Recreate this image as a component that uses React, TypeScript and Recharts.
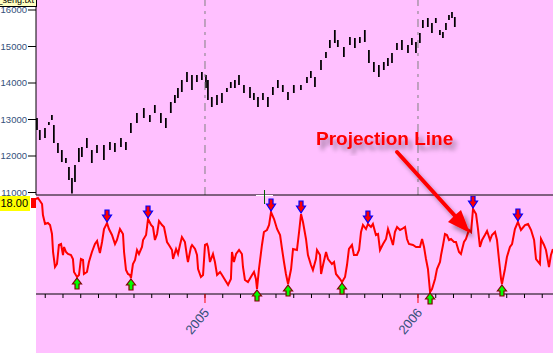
import React from 'react';
import { ComposedChart, Bar, Line, Scatter, XAxis, YAxis, ReferenceLine } from 'recharts';

// ---- Price panel (Hang Seng), x = months since Jan 2004 ----
const priceMonths = [
  2.54, 2.70, 2.99, 3.21, 3.38, 3.49, 3.72, 3.94, 4.17, 4.34,
  4.51, 4.68, 4.90, 5.07, 5.35, 5.63, 5.92, 6.31, 6.65, 6.93,
  7.27, 7.55, 7.83, 8.17, 8.56, 8.90, 9.18, 9.52, 9.80, 10.08,
  10.31, 10.48, 10.70, 10.99, 11.27, 11.55, 11.83, 12.06, 12.17, 12.39,
  12.68, 12.96, 13.24, 13.46, 13.69, 13.92, 14.20, 14.54, 14.76, 14.99,
  15.27, 15.55, 15.83, 16.11, 16.39, 16.68, 17.01, 17.41, 17.75, 17.97,
  18.20, 18.54, 18.82, 19.04, 19.32, 19.49, 19.83, 20.17, 20.45, 20.73,
  21.01, 21.24, 21.52, 21.80, 22.08, 22.31, 22.54, 22.82, 23.10, 23.44,
  23.66, 23.89, 24.11, 24.28, 24.56, 24.79, 25.01, 25.24, 25.41, 25.58,
  25.75, 25.92, 26.08,
];
const priceHigh = [
  13041, 12712, 12767, 12931, 13123, 12849, 12356, 12164, 11945, 11698,
  11397, 11753, 12219, 12246, 12493, 12164, 12301, 12301, 12383, 12356,
  12493, 12383, 12904, 13178, 13315, 13123, 13397, 13178, 13041, 13479,
  13671, 13863, 14082, 14301, 14219, 14219, 14301, 14219, 14082, 13616,
  13671, 13726, 13863, 14027, 14082, 14219, 13945, 13890, 13726, 13616,
  13726, 13616, 13890, 14082, 13945, 13753, 13945, 13945, 14164, 14329,
  14164, 14630, 14849, 15178, 15452, 15178, 14986, 15260, 15233, 15260,
  15452, 14904, 14575, 14493, 14575, 14685, 14822, 15096, 15178, 15041,
  15233, 15123, 15370, 15726, 15781, 15644, 15781, 15452, 15397, 15644,
  15863, 15945, 15808,
];
const priceLow = [
  12712, 12438, 12493, 12849, 12986, 12356, 12082, 11835, 11808, 11342,
  10970, 11287, 11835, 11972, 12219, 11808, 12082, 11890, 12164, 12109,
  12246, 12164, 12630, 12904, 13041, 12931, 13178, 12904, 12767, 13178,
  13452, 13589, 13753, 14027, 13808, 14027, 14082, 13863, 13534, 13342,
  13397, 13452, 13753, 13863, 13863, 13945, 13726, 13589, 13534, 13342,
  13534, 13342, 13671, 13863, 13753, 13534, 13726, 13808, 14000, 14137,
  13890, 14356, 14685, 14959, 15096, 14986, 14712, 15041, 14959, 15096,
  15123, 14548, 14301, 14164, 14356, 14466, 14548, 14904, 14904, 14822,
  15041, 14822, 15096, 15507, 15534, 15370, 15644, 15315, 15233, 15452,
  15726, 15781, 15534,
];
const priceTicks = [11000, 12000, 13000, 14000, 15000, 16000];

// ---- Oscillator panel ----
const oscMonths = [
  2.48, 2.59, 2.82, 2.87, 2.99, 3.15, 3.27, 3.38, 3.44, 3.55,
  3.66, 3.77, 3.89, 4.00, 4.06, 4.17, 4.28, 4.45, 4.56, 4.62,
  4.79, 4.90, 5.01, 5.13, 5.18, 5.35, 5.46, 5.63, 5.80, 5.92,
  5.97, 6.08, 6.20, 6.31, 6.48, 6.59, 6.76, 6.93, 7.04, 7.21,
  7.38, 7.44, 7.55, 7.66, 7.77, 7.83, 7.94, 8.06, 8.17, 8.28,
  8.45, 8.51, 8.68, 8.79, 8.96, 9.07, 9.18, 9.30, 9.41, 9.58,
  9.69, 9.86, 9.97, 10.14, 10.20, 10.37, 10.48, 10.59, 10.70, 10.87,
  10.99, 11.04, 11.21, 11.27, 11.44, 11.55, 11.61, 11.77, 11.89, 12.00,
  12.11, 12.17, 12.28, 12.45, 12.56, 12.68, 12.85, 12.96, 13.13, 13.30,
  13.46, 13.52, 13.63, 13.75, 13.92, 14.08, 14.14, 14.25, 14.42, 14.65,
  14.76, 14.87, 14.93, 15.04, 15.21, 15.32, 15.49, 15.61, 15.72, 15.89,
  16.06, 16.23, 16.34, 16.45, 16.56, 16.68, 16.85, 16.96, 17.18, 17.30,
  17.41, 17.52, 17.69, 17.80, 17.97, 18.08, 18.25, 18.31, 18.48, 18.54,
  18.65, 18.82, 18.93, 19.15, 19.27, 19.38, 19.61, 19.72, 19.89, 20.00,
  20.11, 20.28, 20.39, 20.56, 20.68, 20.79, 20.90, 21.07, 21.18, 21.35,
  21.46, 21.63, 21.75, 21.86, 22.03, 22.20, 22.31, 22.42, 22.59, 22.70,
  22.82, 22.99, 23.10, 23.27, 23.38, 23.49, 23.72, 23.89, 24.11, 24.23,
  24.34, 24.45, 24.56, 24.68, 24.79, 24.96, 25.07, 25.24, 25.30, 25.41,
  25.52, 25.63, 25.75, 25.86, 26.03, 26.14, 26.31, 26.42, 26.59, 26.70,
  26.87, 26.99, 27.10, 27.27, 27.38, 27.49, 27.61, 27.77, 27.89, 28.06,
  28.17, 28.34, 28.45, 28.56, 28.68, 28.73, 28.90, 29.01, 29.18, 29.30,
  29.46, 29.63, 29.80, 30.03, 30.20, 30.37, 30.54, 30.65, 30.87, 30.93,
  31.10, 31.21, 31.38, 31.49, 31.60,
];
const oscValues = [
  95, 96, 90, 79, 70, 71, 69, 60, 42, 27,
  30, 49, 50, 39, 47, 42, 40, 39, 35, 22,
  17, 19, 35, 34, 20, 22, 32, 42, 50, 53,
  49, 41, 52, 65, 71, 65, 59, 50, 54, 65,
  60, 42, 24, 20, 19, 16, 30, 34, 44, 40,
  47, 54, 59, 75, 69, 67, 54, 60, 73, 69,
  67, 52, 49, 44, 35, 45, 40, 49, 57, 52,
  37, 32, 47, 49, 45, 39, 25, 17, 19, 49,
  50, 47, 32, 40, 32, 19, 22, 19, 14, 9,
  15, 42, 32, 40, 44, 40, 27, 14, 12, 19,
  22, 15, 5, 25, 49, 62, 64, 69, 82, 75,
  65, 59, 45, 32, 20, 10, 25, 45, 44, 62,
  80, 72, 55, 39, 29, 24, 35, 44, 39, 20,
  29, 42, 35, 30, 32, 20, 15, 12, 17, 29,
  45, 49, 39, 39, 44, 62, 69, 65, 70, 67,
  70, 59, 60, 44, 50, 55, 65, 59, 49, 62,
  67, 64, 65, 67, 55, 50, 49, 47, 47, 55,
  47, 35, 25, 2, 5, 15, 25, 32, 39, 49,
  60, 59, 54, 55, 52, 52, 42, 40, 52, 55,
  64, 62, 85, 80, 65, 47, 54, 59, 63, 54,
  59, 62, 54, 35, 15, 10, 25, 37, 47, 50,
  65, 72, 64, 69, 70, 64, 54, 35, 30, 55,
  49, 44, 27, 39, 45,
];
const peakMonths = [6.48, 8.79, 15.72, 17.41, 21.18, 27.10, 29.63];
const troughMonths = [4.79, 7.83, 14.93, 16.68, 19.72, 24.68, 28.73];

const monthTicks = [3, 4, 5, 6, 7, 8, 9, 10, 11, 12, 13, 14, 15, 16, 17, 18, 19, 20, 21, 22, 23, 24, 25, 26, 27, 28, 29, 30, 31];
const yearLabels = [
  { month: 12, label: '2005' },
  { month: 24, label: '2006' },
];
const xDomain = [2.479, 31.606];

const priceData = priceMonths.map((m, i) => ({ m, range: [priceLow[i], priceHigh[i]] }));
const oscData = oscMonths.map((m, i) => ({ m, v: oscValues[i] }));
const peakData = peakMonths.map((m) => ({ m, v: oscValues[oscMonths.indexOf(m)] }));
const troughData = troughMonths.map((m) => ({ m, v: oscValues[oscMonths.indexOf(m)] }));

const FONT = '"Liberation Sans", Arial, sans-serif';
const LABEL_COLOR = '#34507a';

const PeakArrow = (props: any) => {
  const { cx, cy } = props;
  if (cx == null || cy == null) return <g />;
  const d = `M${cx - 2},${cy - 13} L${cx + 2},${cy - 13} L${cx + 2},${cy - 8} L${cx + 4.5},${cy - 8} L${cx},${cy - 1} L${cx - 4.5},${cy - 8} L${cx - 2},${cy - 8} Z`;
  return <path d={d} fill="#ff0000" stroke="#0000ff" strokeWidth={1.2} />;
};

const TroughArrow = (props: any) => {
  const { cx, cy } = props;
  if (cx == null || cy == null) return <g />;
  const d = `M${cx},${cy + 1} L${cx + 4.5},${cy + 7} L${cx + 2},${cy + 7} L${cx + 2},${cy + 12} L${cx - 2},${cy + 12} L${cx - 2},${cy + 7} L${cx - 4.5},${cy + 7} Z`;
  return <path d={d} fill="#00ff00" stroke="#800000" strokeWidth={1.2} />;
};

const MonthTick = (props: any) => {
  const { x, y, payload } = props;
  const yr = yearLabels.find((t) => Math.abs(t.month - payload.value) < 0.01);
  if (!yr) return <g />;
  const ax = x + 5;
  const ay = y + 15;
  return (
    <g>
      <line x1={x} x2={x} y1={y - 4} y2={y + 5} stroke="#ff0000" strokeWidth={1} />
      <text x={ax} y={ay} transform={`rotate(-50 ${ax} ${ay})`} textAnchor="end" fontSize={13} fontFamily={FONT} fill={LABEL_COLOR}>
        {yr.label}
      </text>
    </g>
  );
};

export default function App() {
  return (
    <div style={{ position: 'absolute', left: 0, top: 0, width: 553, height: 353, background: '#ffffff', overflow: 'hidden', fontFamily: FONT }}>
      <div style={{ position: 'absolute', left: 36, top: 0, width: 517, height: 353, background: '#ffc0ff' }} />

      <div style={{ position: 'absolute', left: 0, top: 0 }}>
        <ComposedChart width={553} height={196} data={priceData} margin={{ top: 0, right: 0, bottom: 0, left: 0 }}>
          <XAxis dataKey="m" type="number" domain={xDomain} allowDataOverflow height={1} tick={false} tickLine={false} axisLine={{ stroke: '#000000' }} />
          <YAxis
            type="number"
            domain={[10932, 16274]}
            allowDataOverflow
            ticks={priceTicks}
            interval={0}
            width={36}
            tickSize={8}
            tickMargin={1}
            axisLine={{ stroke: '#000000' }}
            tickLine={{ stroke: '#000000' }}
            tick={{ fontSize: 9.5, fill: LABEL_COLOR, fontFamily: FONT }}
          />
          <ReferenceLine x={12} stroke="#808080" strokeWidth={1} strokeDasharray="8 5 3 5" />
          <ReferenceLine x={24} stroke="#808080" strokeWidth={1} strokeDasharray="8 5 3 5" />
          <Bar dataKey="range" fill="#000000" barSize={3} isAnimationActive={false} />
        </ComposedChart>
      </div>

      <div style={{ position: 'absolute', left: 0, top: 196 }}>
        <ComposedChart width={553} height={157} data={oscData} margin={{ top: 0, right: 0, bottom: 0, left: 36 }}>
          <XAxis
            dataKey="m"
            type="number"
            domain={xDomain}
            ticks={monthTicks}
            interval={0}
            height={59}
            tickSize={4}
            tickMargin={0}
            axisLine={{ stroke: '#000000' }}
            tickLine={{ stroke: '#000000' }}
            tick={(p: any) => <MonthTick {...p} />}
          />
          <YAxis hide type="number" domain={[0, 98]} />
          <Line dataKey="v" type="linear" stroke="#ff0000" strokeWidth={2} dot={false} activeDot={false} isAnimationActive={false} />
          <Scatter data={peakData} dataKey="v" shape={PeakArrow} isAnimationActive={false} />
          <Scatter data={troughData} dataKey="v" shape={TroughArrow} isAnimationActive={false} />
        </ComposedChart>
      </div>

      <div style={{ position: 'absolute', left: 0, top: 0, width: 36, height: 6, background: '#ffffc0', borderRight: '1px solid #000', borderBottom: '1px solid #000', overflow: 'hidden' }}>
        <span style={{ position: 'absolute', right: 2, top: -5, fontSize: 9, lineHeight: '10px', whiteSpace: 'nowrap', color: '#000' }}>hang_seng.txt</span>
      </div>

      <div style={{ position: 'absolute', left: 0, top: 196, width: 30, height: 15, background: '#ffff00', overflow: 'hidden' }}>
        <span style={{ position: 'absolute', right: 2, top: 0, fontSize: 11, lineHeight: '15px', whiteSpace: 'nowrap', color: '#000' }}>18.00</span>
      </div>
      <div style={{ position: 'absolute', left: 31, top: 198, width: 5, height: 10, background: '#ff0000' }} />

      <svg width={553} height={353} style={{ position: 'absolute', left: 0, top: 0, pointerEvents: 'none' }}>
        <defs>
          <filter id="shadow" x="-30%" y="-30%" width="160%" height="160%">
            <feDropShadow dx="4" dy="5" stdDeviation="2" floodColor="#000000" floodOpacity="0.35" />
          </filter>
        </defs>
        <line x1={256} x2={273} y1={195.5} y2={195.5} stroke="#ffffff" strokeWidth={1} />
        <line x1={264.5} x2={264.5} y1={190} y2={204} stroke="#006000" strokeWidth={1} />
        <text x={316} y={145} fontSize={19} fontWeight="bold" fill="#ff0000" fontFamily={FONT} filter="url(#shadow)">
          Projection Line
        </text>
        <g filter="url(#shadow)">
          <line x1={397} y1={152} x2={456} y2={217} stroke="#ff0000" strokeWidth={4} strokeLinecap="round" />
          <polygon points="470,233 448,222 454,216 461,210" fill="#ff0000" />
        </g>
      </svg>
    </div>
  );
}
